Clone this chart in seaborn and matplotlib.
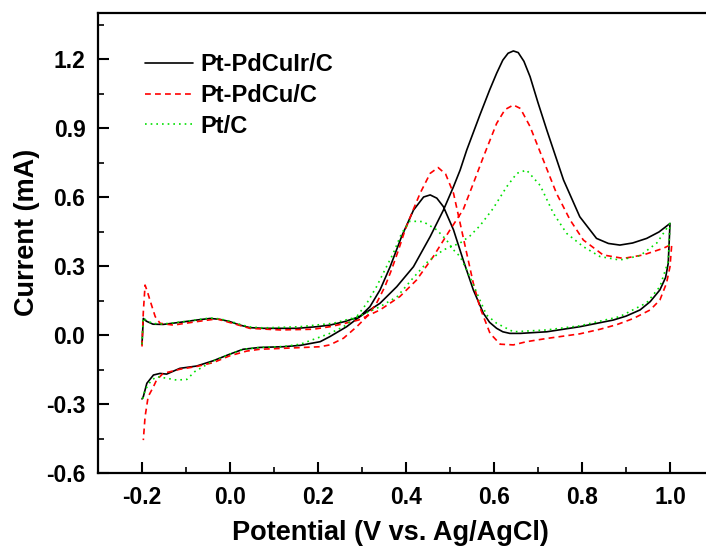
import numpy as np
import pandas as pd
import seaborn as sns
import matplotlib.pyplot as plt
from matplotlib.ticker import MultipleLocator

# CV curves: forward scan (-0.2 -> 1.0) then reverse (1.0 -> -0.2)
# Pt-PdCuIr/C
ir_fwd_v = [-0.200, -0.197, -0.190, -0.175, -0.152, -0.114, -0.076, -0.045, -0.023, 0.000,
            0.023, 0.045, 0.076, 0.152, 0.197, 0.227, 0.260, 0.295, 0.341, 0.379, 0.417,
            0.455, 0.485, 0.508, 0.523, 0.538, 0.568, 0.590, 0.606, 0.620, 0.632, 0.644,
            0.655, 0.668, 0.682, 0.700, 0.720, 0.758, 0.795, 0.833, 0.860, 0.886, 0.915,
            0.947, 0.975, 1.000]
ir_fwd_i = [-0.040, 0.072, 0.060, 0.047, 0.046, 0.055, 0.065, 0.072, 0.068, 0.058,
            0.043, 0.032, 0.029, 0.029, 0.036, 0.043, 0.058, 0.080, 0.138, 0.210, 0.297,
            0.428, 0.543, 0.645, 0.717, 0.804, 0.957, 1.065, 1.138, 1.195, 1.225, 1.235,
            1.228, 1.190, 1.123, 1.010, 0.891, 0.674, 0.514, 0.420, 0.398, 0.391, 0.400,
            0.420, 0.448, 0.485]
ir_rev_v = [1.000, 0.996, 0.990, 0.977, 0.955, 0.932, 0.900, 0.871, 0.795, 0.720, 0.660,
            0.636, 0.620, 0.606, 0.590, 0.576, 0.553, 0.530, 0.508, 0.485, 0.470, 0.455,
            0.440, 0.417, 0.390, 0.364, 0.341, 0.318, 0.295, 0.265, 0.227, 0.205, 0.160,
            0.121, 0.068, 0.030, 0.000, -0.038, -0.076, -0.114, -0.144, -0.159, -0.174,
            -0.189, -0.197, -0.200]
ir_rev_i = [0.485, 0.312, 0.250, 0.196, 0.145, 0.109, 0.082, 0.065, 0.036, 0.014, 0.007,
            0.007, 0.014, 0.029, 0.055, 0.094, 0.196, 0.326, 0.457, 0.558, 0.595, 0.609,
            0.600, 0.543, 0.428, 0.297, 0.196, 0.123, 0.080, 0.036, -0.007, -0.029, -0.045,
            -0.051, -0.054, -0.062, -0.083, -0.112, -0.135, -0.145, -0.170, -0.167, -0.174,
            -0.210, -0.268, -0.278]

# Pt-PdCu/C
cu_fwd_v = [-0.200, -0.197, -0.193, -0.188, -0.182, -0.170, -0.159, -0.129, -0.076, -0.030,
            0.000, 0.045, 0.114, 0.189, 0.227, 0.260, 0.292, 0.341, 0.386, 0.424, 0.462,
            0.500, 0.530, 0.553, 0.576, 0.606, 0.625, 0.644, 0.660, 0.682, 0.712, 0.742,
            0.773, 0.803, 0.848, 0.894, 0.939, 0.985, 1.004]
cu_fwd_i = [-0.050, 0.100, 0.217, 0.190, 0.152, 0.080, 0.051, 0.043, 0.058, 0.070,
            0.054, 0.029, 0.022, 0.025, 0.036, 0.050, 0.065, 0.109, 0.167, 0.239, 0.341,
            0.457, 0.545, 0.659, 0.775, 0.920, 0.980, 1.000, 0.985, 0.906, 0.761, 0.616,
            0.500, 0.413, 0.348, 0.333, 0.348, 0.377, 0.395]
cu_rev_v = [1.004, 1.000, 0.992, 0.977, 0.955, 0.917, 0.879, 0.841, 0.795, 0.720, 0.674,
            0.644, 0.614, 0.591, 0.568, 0.553, 0.538, 0.523, 0.508, 0.490, 0.473, 0.455,
            0.432, 0.413, 0.398, 0.383, 0.367, 0.352, 0.333, 0.311, 0.288, 0.258, 0.227,
            0.205, 0.121, 0.068, 0.038, 0.000, -0.038, -0.076, -0.114, -0.152, -0.167,
            -0.174, -0.186, -0.193, -0.197]
cu_rev_i = [0.395, 0.297, 0.225, 0.152, 0.109, 0.072, 0.045, 0.025, 0.005, -0.015, -0.029,
            -0.043, -0.040, 0.007, 0.120, 0.225, 0.355, 0.486, 0.616, 0.700, 0.728, 0.703,
            0.616, 0.529, 0.457, 0.370, 0.283, 0.210, 0.138, 0.080, 0.036, -0.014, -0.043,
            -0.051, -0.058, -0.062, -0.070, -0.090, -0.120, -0.137, -0.149, -0.167, -0.196,
            -0.225, -0.268, -0.355, -0.457]

# Pt/C
pt_fwd_v = [-0.200, -0.197, -0.190, -0.175, -0.152, -0.114, -0.076, -0.045, -0.023, 0.000,
            0.023, 0.045, 0.076, 0.159, 0.235, 0.292, 0.341, 0.380, 0.417, 0.450, 0.485,
            0.523, 0.545, 0.568, 0.598, 0.629, 0.652, 0.674, 0.705, 0.735, 0.765, 0.803,
            0.841, 0.886, 0.932, 0.970, 0.985, 1.000]
pt_fwd_i = [-0.040, 0.075, 0.063, 0.050, 0.048, 0.056, 0.066, 0.074, 0.070, 0.060,
            0.046, 0.035, 0.031, 0.036, 0.051, 0.080, 0.123, 0.167, 0.250, 0.320, 0.370,
            0.400, 0.430, 0.475, 0.550, 0.645, 0.703, 0.717, 0.650, 0.529, 0.442, 0.384,
            0.341, 0.326, 0.345, 0.400, 0.442, 0.485]
pt_rev_v = [1.000, 0.996, 0.977, 0.947, 0.886, 0.795, 0.720, 0.644, 0.606, 0.583, 0.568,
            0.545, 0.523, 0.508, 0.492, 0.470, 0.439, 0.409, 0.390, 0.371, 0.352, 0.333,
            0.311, 0.288, 0.258, 0.227, 0.160, 0.121, 0.068, 0.030, 0.000, -0.038, -0.080,
            -0.098, -0.121, -0.144, -0.167, -0.180, -0.193, -0.200]
pt_rev_i = [0.485, 0.320, 0.210, 0.140, 0.080, 0.040, 0.022, 0.014, 0.051, 0.087, 0.152,
            0.254, 0.341, 0.370, 0.413, 0.457, 0.493, 0.495, 0.442, 0.355, 0.283, 0.210,
            0.138, 0.080, 0.036, 0.007, -0.040, -0.050, -0.054, -0.062, -0.083, -0.112, -0.159,
            -0.193, -0.196, -0.188, -0.181, -0.200, -0.239, -0.290]

labels = ["Pt-PdCuIr/C", "Pt-PdCu/C", "Pt/C"]
colors = ["black", "#ff0000", "#00e000"]
styles = ["-", (0, (3.5, 2.5)), (0, (1, 2.4))]

curves = [
    (ir_fwd_v + ir_rev_v, ir_fwd_i + ir_rev_i),
    (cu_fwd_v + cu_rev_v, cu_fwd_i + cu_rev_i),
    (pt_fwd_v + pt_rev_v, pt_fwd_i + pt_rev_i),
]

sns.set_theme(style="ticks")
plt.rcParams["font.family"] = ["Liberation Sans", "DejaVu Sans"]
plt.rcParams["font.weight"] = "bold"
for key in ["text.color", "axes.labelcolor", "xtick.color", "ytick.color", "axes.edgecolor"]:
    plt.rcParams[key] = "black"

fig = plt.figure(figsize=(7.06, 5.48), dpi=100)
ax = fig.add_axes([98 / 706, 75 / 548, 616 / 706, 460 / 548])

for (v, i), lab, col, ls in zip(curves, labels, colors, styles):
    df = pd.DataFrame({"V": v, "I": i})
    sns.lineplot(data=df, x="V", y="I", sort=False, estimator=None, ax=ax,
                 color=col, linestyle=ls, linewidth=1.2, label=lab)

ax.set_xlim(-0.3, 1.1)
ax.set_ylim(-0.6, 1.4)
ax.xaxis.set_minor_locator(MultipleLocator(0.1))
ax.yaxis.set_minor_locator(MultipleLocator(0.15))
ax.set_xticks([-0.2, 0.0, 0.2, 0.4, 0.6, 0.8, 1.0])
ax.set_xticklabels(["-0.2", "0.0", "0.2", "0.4", "0.6", "0.8", "1.0"])
ax.set_yticks([-0.6, -0.3, 0.0, 0.3, 0.6, 0.9, 1.2])
ax.set_yticklabels(["-0.6", "-0.3", "0.0", "0.3", "0.6", "0.9", "1.2"])

ax.tick_params(which="major", direction="in", length=8, width=1.5, labelsize=16.5, pad=9)
ax.tick_params(which="minor", direction="in", length=4, width=1.2)
for s in ax.spines.values():
    s.set_linewidth(1.6)

ax.set_xlabel("Potential (V vs. Ag/AgCl)", fontsize=19.5, fontweight="bold")
ax.set_ylabel("Current (mA)", fontsize=19.5, fontweight="bold")
ax.xaxis.set_label_coords((390 - 98) / 616, -0.103)
ax.yaxis.set_label_coords((40 - 98) / 616, 0.524)

ax.legend(loc="upper left", bbox_to_anchor=(145 / 706, 1 - 53 / 548),
          bbox_transform=fig.transFigure, frameon=False, fontsize=17,
          handlelength=2.05, handletextpad=0.3, labelspacing=0.33,
          borderpad=0, borderaxespad=0)

fig.savefig("out.png", dpi=100)
